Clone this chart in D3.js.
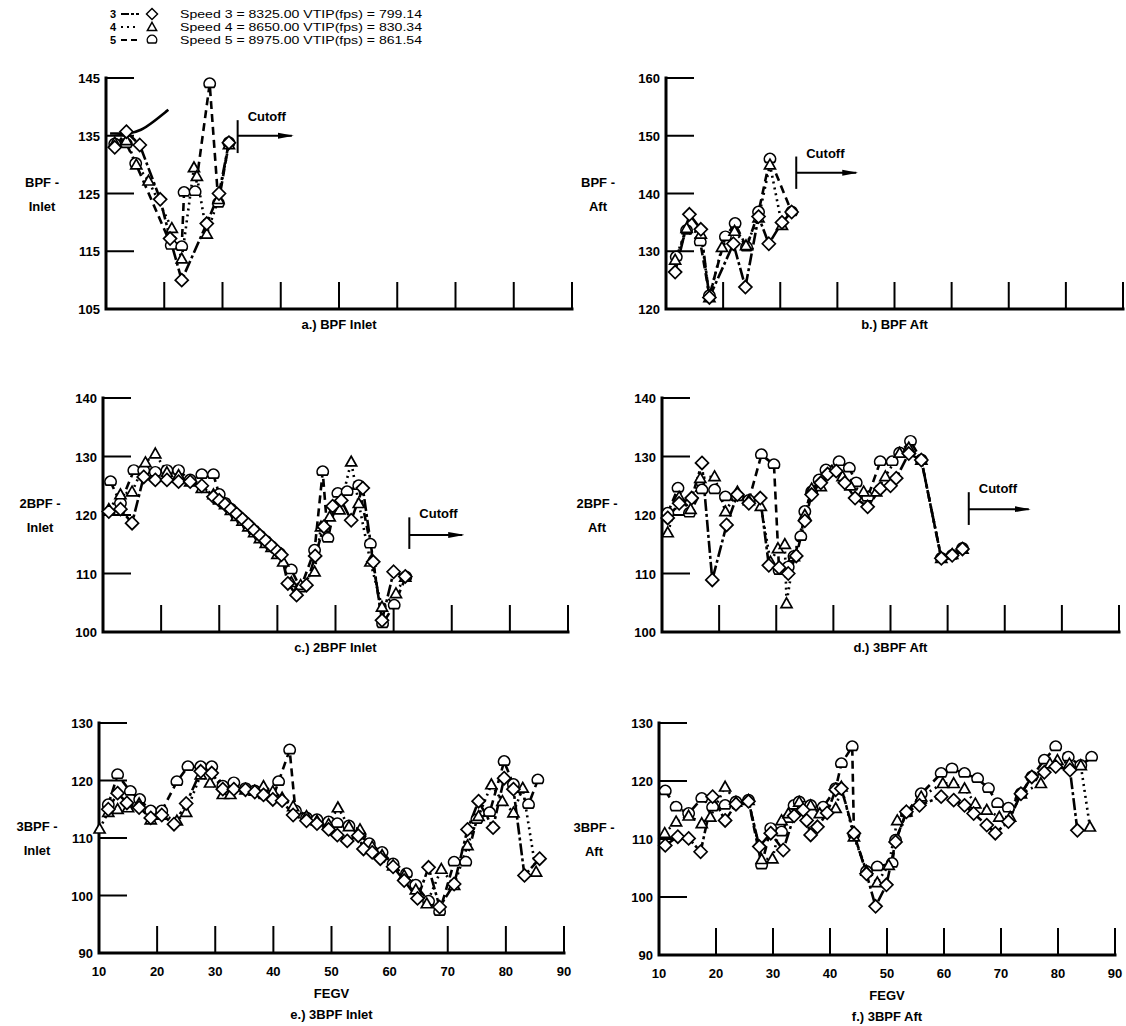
<!DOCTYPE html>
<html lang="en">
<head>
<meta charset="UTF-8">
<title>FEGV blade passing frequency levels</title>
<style>
  body { margin: 0; background: #fff; }
  svg { font-family: "Liberation Sans", Arial, sans-serif; font-weight: bold; }
  .axis-line { stroke: #000; stroke-width: 3; fill: none; stroke-linecap: square; }
  .tick { stroke: #000; stroke-width: 2; }
  .series { fill: none; stroke: #000; stroke-width: 2.6; }
  .mark { fill: #fff; stroke: #000; stroke-width: 1.7; }
  .lbl { font-size: 13px; fill: #000; }
</style>
</head>
<body>
<svg id="chart" width="1126" height="1026"></svg>
<script src="https://d3js.org/d3.v7.min.js"></script>
<script>
// speeds shown in the legend
const speeds = [3, 4, 5];
const speedLabels = [
  "Speed 3 = 8325.00 VTIP(fps) = 799.14",
  "Speed 4 = 8650.00 VTIP(fps) = 830.34",
  "Speed 5 = 8975.00 VTIP(fps) = 861.54"
];
const xTicks = [10, 20, 30, 40, 50, 60, 70, 80, 90];

// a.) BPF Inlet
const bpfInlet3 = [[11.5,133],[13.5,135.7],[15.8,133.4],[19.3,124],[21,117.2],[23,110],[27.3,119.8],[29.4,125],[31.1,133.8]];
const bpfInlet4 = [[11.5,133.8],[13.5,134.2],[15.2,130],[17.3,127.2],[21.3,119],[23,113.7],[25.1,129.5],[25.6,128],[27.3,118],[29.3,124],[31.1,133.5]];
const bpfInlet5 = [[11.5,133.6],[13.5,133.6],[15.1,130.2],[21.2,116],[23,115.8],[23.4,125.2],[25.3,125.3],[27.8,144],[29.3,123.3],[31.1,133.8]];
const bpfInletCurve = [[10.7,135.4],[14,135.3],[16,135.9],[18,137.3],[20.7,139.5]];

// b.) BPF Aft
const bpfAft3 = [[11.6,126.4],[14.1,136.4],[16.1,133.8],[17.6,122],[21.8,131.3],[23.9,123.8],[26.2,136],[28,131.3],[30.3,135],[32,136.8]];
const bpfAft4 = [[11.6,128.5],[13.6,134],[16.1,133],[17.6,122],[19.8,130.7],[22,133.5],[24,131],[26.2,135.8],[28.2,145],[30.3,134.5]];
const bpfAft5 = [[11.8,129],[13.6,133.6],[16,131.6],[17.6,122.3],[20.4,132.5],[22.1,134.8],[24.1,130.7],[26.2,136.8],[28.2,146],[32,136.8]];

// c.) 2BPF Inlet
const bpf2Inlet3 = [[11,120.6],[13,121],[15,118.6],[17,126.5],[19,126],[21,126],[23,125.7],[25,125.7],[27,125],[29,123.1],[30,122.5],[31,121.8],[32,121],[33,120.2],[34,119.3],[35,118.4],[36,117.4],[37,116.5],[38,115.6],[39,114.7],[40,113.8],[40.7,113.2],[41.8,108.3],[43.3,106.3],[45,108],[46.5,113],[48,118],[49.5,121.5],[51,122.5],[52.7,119.1],[54.7,124.6],[56.5,112],[58,102],[60,110.3],[62,109.5]];
const bpf2Inlet4 = [[11,121],[13,123.5],[15,124],[17.3,129],[19,130.5],[21,127.3],[23,126.8],[25,125.7],[27,124.6],[29,123.5],[30,122.6],[31,121.8],[32,120.8],[33,119.8],[34,119],[35,118],[36,117],[37,116],[38,115.2],[39,114.5],[40,113.3],[41,112],[42.4,108.5],[44,108],[46.4,110.3],[47.5,118],[49,119.7],[50.7,120.9],[52.7,129.1],[54,122],[56,112],[58,104.3],[60.4,106.6],[62,109.4]];
const bpf2Inlet5 = [[11.3,125.7],[13,122],[15.3,127.6],[17,127.6],[19,127.3],[21,127.6],[23,127.6],[25,126],[27,126.9],[29,126.9],[30,123.5],[31,122],[32,121],[33,120],[34,119.1],[35,118.2],[36,117.3],[37,116.4],[38,115.5],[39,114.6],[40.4,113.4],[42.4,110.6],[44,107.5],[46.4,114],[47.8,127.4],[48.7,116],[50.4,123.7],[52,124],[54,125],[56,115],[58.1,101.4],[60.1,104.6],[62.1,109.4]];

// d.) "3BPF Aft" (2BPF Aft axis)
const bpf2Aft3 = [[11,119.5],[13,122],[15.2,122.9],[17,128.9],[18.8,108.9],[21.3,118.3],[23.2,123.5],[25.2,122],[27.2,122.9],[28.7,111.4],[30.5,111],[32.1,110],[33.5,113],[35,119],[36.2,123.5],[37.8,125.5],[39,127],[40.5,127.5],[42,125.5],[43.8,122.9],[46,121.4],[48.2,124.5],[50,125],[51,126.3],[53.2,130.5],[55.4,129.4],[58.9,112.6],[60.8,113.1],[62.6,114.2]];
const bpf2Aft4 = [[11,117],[13,123.1],[15,121],[16.7,126.3],[19.2,126.6],[21.1,120.6],[23.2,124],[25.2,122.5],[27.3,121.5],[29,112],[30.3,114.3],[31.5,115],[31.8,104.9],[33.1,112.9],[35,120],[36.2,124.5],[37.8,124.9],[39.7,127.5],[41.6,126.6],[43,125],[45.3,124],[47.5,124],[49.1,126.6],[51.6,130.6],[53.2,131.5],[55.4,129.4],[58.9,112.6],[60.8,113.3],[62.6,114.2]];
const bpf2Aft5 = [[11,120.3],[12.8,124.6],[14.8,120.3],[17,124.3],[19.2,124.3],[21.1,123.1],[23.2,123.1],[25.2,122.5],[27.4,130.3],[29.6,128.6],[30.5,110.5],[32.1,111.1],[33.1,112.9],[34.3,116.3],[35,120.6],[36.2,124],[37.5,126],[38.7,127.7],[41,129.1],[42.8,128],[44,125.5],[46,123],[48.2,129.1],[50.3,129.1],[51.6,130.6],[53.5,132.6],[55.4,129.4],[58.9,112.6],[60.8,113.1],[62.6,114.3]];

// e.) 3BPF Inlet
const bpf3Inlet3 = [[11.6,115],[13.2,117.8],[14.8,116.1],[16.9,115.3],[18.9,113.5],[20.8,114],[22.9,112.4],[25,116],[27.5,121.6],[29.4,121.3],[31.3,118.5],[33.2,118.5],[35.2,118.4],[36.8,118],[38.3,117.5],[39.9,116.7],[41.5,116.5],[43.4,114],[45.7,113],[47.5,112.5],[49.5,111.5],[51,110.5],[52.7,109.5],[54.6,110.4],[55.5,108.1],[57,107.5],[58.4,106.4],[60.6,105],[62.5,102.6],[64.8,99.5],[66.7,104.9],[68.6,98],[71.1,102],[73.4,111.5],[75.3,116.4],[77.8,111.8],[79.7,120.4],[81.3,118.5],[83.2,103.5],[85.8,106.4]];
const bpf3Inlet4 = [[10.1,111.6],[11.6,114.5],[13.2,115],[15,115.3],[16.9,116],[18.9,113.2],[20.8,114],[23.4,113],[25,114.5],[27.5,121],[29.1,119.6],[31.3,117.6],[32.6,117.6],[35.2,118.4],[36.8,118.2],[38.3,119],[39.9,118.1],[41.5,117],[43.4,115.5],[45.7,113.8],[47.5,113],[49.5,112.4],[51.1,115.3],[53,112],[54.9,111.5],[57,108.5],[58.7,107],[60.6,105.2],[62.5,103.5],[64.5,101],[66.4,98.6],[68.9,104.6],[71.1,101.8],[73.4,108.7],[75.3,113.8],[77.5,119.3],[79.4,116.4],[81.3,114.4],[82.9,118.7],[85.2,104.1]];
const bpf3Inlet5 = [[11.6,115.8],[13.2,121],[15.4,118.1],[17,116.7],[18.9,114.7],[20.8,114.7],[23.4,119.8],[25.3,122.4],[27.5,122.4],[29.4,122.4],[31.3,119],[33.2,119.6],[35.2,118.6],[36.8,118.2],[38.3,117.5],[39.9,117],[40.9,119.8],[42.8,125.3],[43.8,114.7],[45.7,113.5],[47.5,113.2],[49.5,112.8],[51,112.5],[53,112.1],[54.9,110.5],[56.5,109],[58.7,107.5],[60.6,105.5],[62.9,103.8],[64.5,101.8],[66.7,99],[68.6,97.2],[71.1,105.8],[73.1,105.8],[75,113.2],[77.2,114.4],[79.7,123.3],[81.3,119.3],[83.9,115.8],[85.5,120.1]];

// f.) 3BPF Aft
const bpf3Aft3 = [[11.1,108.9],[13.3,110.4],[15.2,110.1],[17.3,107.8],[19.4,117.3],[21.6,113.2],[23.5,116],[25.7,116.5],[27.6,108.7],[29.6,111],[31.8,108.1],[33.7,114],[35.3,115],[35.9,113.2],[36.6,110.7],[37.8,112.1],[39.5,114.5],[41,118.5],[42,118.7],[44.2,111],[46.4,104],[48,98.4],[49.9,102.1],[51.5,109.5],[53.4,114.7],[55.7,115.8],[59.5,117.3],[61.7,116.7],[63.6,115.8],[65.2,114.4],[67.5,112.4],[69,111],[71.3,113],[73.5,117.8],[75.4,120.7],[77.6,121.5],[79.6,122.5],[82.1,121.9],[83.4,111.5]];
const bpf3Aft4 = [[11,111],[13,113],[15.2,114],[17.5,112.7],[19,113.8],[21.6,119],[23.5,116.4],[25.7,116.7],[28,106.5],[29.9,106.6],[31.5,113.2],[32.7,114.4],[34.6,116.4],[36.6,115.8],[38.2,114.4],[41,115.3],[42,119],[44.2,110.4],[46.4,104.5],[48.3,102.5],[50.3,105.5],[51.8,113.2],[53.4,114.7],[56,117.3],[59.8,119.6],[61.7,119.6],[63.6,118.7],[65.5,116.1],[67.5,115],[69.7,113.8],[71.6,113.8],[73.5,117.8],[77,119.6],[78.6,123],[79.9,123.6],[82,123],[84,122.7],[85.6,112.1]];
const bpf3Aft5 = [[11.1,118.3],[13,115.5],[15.2,114.4],[17.5,117],[19.4,115.5],[21.6,115.8],[23.5,116.4],[25.7,116.7],[28,105.5],[29.6,111.8],[31.5,111.2],[32.7,113.5],[33.7,115.8],[34.6,116.4],[35.3,115.5],[36.6,115.8],[38.8,115.5],[41,118.7],[42,123],[43.9,125.9],[44.2,110.8],[46.4,104.4],[48.3,105.2],[50.9,105.8],[51.5,109.8],[53.4,114.5],[56,117.8],[59.5,121.3],[61.4,122.1],[63.6,121.3],[65.9,120.4],[67.8,118.7],[69.4,116.1],[71.3,115.3],[73.5,117.8],[75.4,120.7],[77.6,123.6],[79.6,125.9],[81.8,124.1],[84,122.7],[85.9,124.1]];

// panel layout
const panels = [
  { x0: 106, x1: 572, y0: 78,  y1: 309, yDom: [105, 145], title: ["BPF -", "Inlet"], tx: 42,  caption: "a.) BPF Inlet",
    series: [bpfInlet3, bpfInlet4, bpfInlet5], cutoff: { x: 32.6, y0: 132, y1: 137.7, ya: 135, x2: 41.9 } },
  { x0: 666, x1: 1123, y0: 78, y1: 309, yDom: [120, 160], title: ["BPF -", "Aft"], tx: 598, caption: "b.) BPF Aft",
    series: [bpfAft3, bpfAft4, bpfAft5], cutoff: { x: 32.8, y0: 140.8, y1: 146.4, ya: 143.6, x2: 43.3 } },
  { x0: 103, x1: 568, y0: 398, y1: 632, yDom: [100, 140], title: ["2BPF -", "Inlet"], tx: 40, caption: "c.) 2BPF Inlet",
    series: [bpf2Inlet3, bpf2Inlet4, bpf2Inlet5], cutoff: { x: 62.7, y0: 114.2, y1: 119.6, ya: 116.6, x2: 71.8 } },
  { x0: 662, x1: 1119, y0: 398, y1: 632, yDom: [100, 140], title: ["2BPF -", "Aft"], tx: 597, caption: "d.) 3BPF Aft",
    series: [bpf2Aft3, bpf2Aft4, bpf2Aft5], cutoff: { x: 63.7, y0: 118.3, y1: 123.9, ya: 121, x2: 74.2 } },
  { x0: 99, x1: 564, y0: 723, y1: 953, yDom: [90, 130], title: ["3BPF -", "Inlet"], tx: 37, caption: "e.) 3BPF Inlet",
    series: [bpf3Inlet3, bpf3Inlet4, bpf3Inlet5], xLabels: true },
  { x0: 659, x1: 1115, y0: 723, y1: 955, yDom: [90, 130], title: ["3BPF -", "Aft"], tx: 594, caption: "f.) 3BPF Aft",
    series: [bpf3Aft3, bpf3Aft4, bpf3Aft5], xLabels: true }
];

const dashes = ["12,3,3,3", "2,4", "8,5"];
const shapes = [
  "M0,-6.5L6.5,0L0,6.5L-6.5,0Z",          // diamond
  "M0,-5.5L5.5,4.2L-5.5,4.2Z",            // triangle
  "M-4.4,3.5A5.6,5.6 0 1 1 4.4,3.5Z"      // flat-bottomed circle
];

const svg = d3.select("#chart");

svg.append("defs").append("marker")
  .attr("id", "arrow")
  .attr("markerUnits", "userSpaceOnUse")
  .attr("markerWidth", 16).attr("markerHeight", 8)
  .attr("refX", 14).attr("refY", 4)
  .attr("orient", "auto")
  .append("path").attr("d", "M0,1L16,4L0,7Z").attr("fill", "#000");

panels.forEach(p => {
  const x = d3.scaleLinear().domain([10, 90]).range([p.x0, p.x1]);
  const y = d3.scaleLinear().domain(p.yDom).range([p.y1, p.y0]);
  const yTicks = d3.range(p.yDom[0], p.yDom[1] + 1, 10);
  const g = svg.append("g");

  // axes
  g.append("path").attr("class", "axis-line")
    .attr("d", `M${x(10)},${y(p.yDom[1])}V${y(p.yDom[0])}H${x(90)}`);
  g.selectAll(".ytick").data(yTicks.slice(1)).join("line")
    .attr("class", "tick").attr("stroke-width", 2.6)
    .attr("x1", x(10)).attr("x2", x(10) + 28)
    .attr("y1", d => y(d)).attr("y2", d => y(d));
  g.selectAll(".xtick").data(xTicks.slice(1)).join("line")
    .attr("class", "tick")
    .attr("x1", d => x(d)).attr("x2", d => x(d))
    .attr("y1", y(p.yDom[0])).attr("y2", y(p.yDom[0]) - 27);
  g.selectAll(".ylab").data(yTicks).join("text")
    .attr("class", "lbl")
    .attr("x", x(10) - 6).attr("y", d => y(d) + 5)
    .attr("text-anchor", "end")
    .text(d => d);
  if (p.xLabels) {
    g.selectAll(".xlab").data(xTicks).join("text")
      .attr("class", "lbl")
      .attr("x", d => x(d)).attr("y", y(p.yDom[0]) + 23)
      .attr("text-anchor", "middle")
      .text(d => d);
    g.append("text").attr("class", "lbl")
      .attr("x", (p.x0 + p.x1) / 2).attr("y", y(p.yDom[0]) + 45)
      .attr("text-anchor", "middle").text("FEGV");
  }

  // y title (two lines)
  const mid = (p.y0 + p.y1) / 2;
  g.append("text").attr("class", "lbl").attr("font-size", 12)
    .attr("x", p.tx).attr("y", mid - 7).attr("text-anchor", "middle").text(p.title[0]);
  g.append("text").attr("class", "lbl").attr("font-size", 12)
    .attr("x", p.tx).attr("y", mid + 17).attr("text-anchor", "middle").text(p.title[1]);

  // caption
  g.append("text").attr("class", "lbl")
    .attr("x", (p.x0 + p.x1) / 2)
    .attr("y", p.xLabels ? y(p.yDom[0]) + 66 : y(p.yDom[0]) + 20)
    .attr("text-anchor", "middle").text(p.caption);

  // cutoff marker
  if (p.cutoff) {
    const c = p.cutoff;
    g.append("line").attr("class", "tick")
      .attr("x1", x(c.x)).attr("x2", x(c.x)).attr("y1", y(c.y0)).attr("y2", y(c.y1));
    g.append("line").attr("stroke", "#000").attr("stroke-width", 2)
      .attr("x1", x(c.x)).attr("x2", x(c.x2)).attr("y1", y(c.ya)).attr("y2", y(c.ya))
      .attr("marker-end", "url(#arrow)");
    g.append("text").attr("class", "lbl").attr("font-size", 12)
      .attr("x", x(c.x) + 10).attr("y", y(c.y1) + 1).text("Cutoff");
  }

  const line = d3.line().x(d => x(d[0])).y(d => y(d[1]));

  if (p.caption.startsWith("a.")) {
    g.append("path").attr("class", "series").attr("stroke-width", 2.2)
      .attr("d", line.curve(d3.curveBasis)(bpfInletCurve));
    line.curve(d3.curveLinear);
  }

  p.series.forEach((s, i) => {
    g.append("path").attr("class", "series")
      .attr("stroke-dasharray", dashes[i])
      .attr("d", line(s));
  });
  [2, 1, 0].forEach(i => {
    g.selectAll(null).data(p.series[i]).join("path")
      .attr("class", "mark")
      .attr("transform", d => `translate(${x(d[0])},${y(d[1])})`)
      .attr("d", shapes[i]);
  });
});

// legend
const leg = svg.append("g");
speeds.forEach((s, i) => {
  const ly = 14 + i * 13;
  leg.append("text").attr("font-size", 11).attr("font-weight", "bold")
    .attr("x", 113).attr("y", ly + 4).attr("text-anchor", "middle").text(s);
  leg.append("line").attr("stroke", "#000").attr("stroke-width", 2)
    .attr("stroke-dasharray", i === 1 ? "2,4" : (i === 0 ? "8,2,3,2" : "6,4"))
    .attr("x1", 121).attr("x2", 139).attr("y1", ly).attr("y2", ly);
  leg.append("path").attr("class", "mark").attr("stroke-width", 1.3)
    .attr("transform", `translate(152,${ly}) scale(0.85)`)
    .attr("d", shapes[i]);
  leg.append("text").attr("font-size", 11).attr("font-weight", "normal")
    .attr("x", 180).attr("y", ly + 4)
    .attr("textLength", 242).attr("lengthAdjust", "spacingAndGlyphs")
    .text(speedLabels[i]);
});
</script>
</body>
</html>
